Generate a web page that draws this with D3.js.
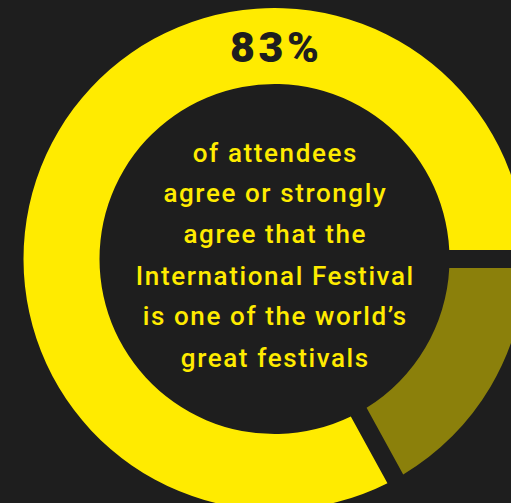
<!DOCTYPE html>
<html><head><meta charset="utf-8">
<script src="https://cdn.jsdelivr.net/npm/d3@7"></script>
<style>html,body{margin:0;padding:0;background:#1e1e1e;overflow:hidden}</style>
</head><body><svg id="c" width="511" height="503"></svg>
<script>
const categories = ["Other", "Agree or strongly agree"];
const values = [17, 83];
const colors = ["#8b800b", "#ffeb00"];
const headline = "83%";
const bodyLines = ["of attendees", "agree or strongly", "agree that the", "International Festival", "is one of the world’s", "great festivals"];

const W = 511, H = 503;
const cx = 274.5, cy = 259, outerR = 251, innerR = 175;
const svg = d3.select("#c");
svg.append("rect").attr("width", W).attr("height", H).attr("fill", "#1e1e1e");
const g = svg.append("g").attr("transform", `translate(${cx},${cy})`);

const pie = d3.pie().sort(null).value(d => d).startAngle(Math.PI / 2).endAngle(Math.PI / 2 + 2 * Math.PI);
const arc = d3.arc().innerRadius(innerR).outerRadius(outerR).padAngle(18 / 200).padRadius(200);
g.selectAll("path").data(pie(values)).join("path")
  .attr("d", arc).attr("fill", (d, i) => colors[i]);

const hls = 3.5;
g.append("text").text(headline)
  .attr("x", hls / 2).attr("y", 62 - cy)
  .attr("text-anchor", "middle")
  .attr("font-family", "Roboto, sans-serif").attr("font-weight", 900)
  .attr("font-size", 43).attr("letter-spacing", hls)
  .attr("fill", "#1e1e1e");

const bls = 1.6;
const lineY = [161.7, 201.7, 243.3, 285, 325, 366.7];
g.selectAll("text.body").data(bodyLines).join("text").attr("class", "body")
  .text(d => d)
  .attr("x", bls / 2).attr("y", (d, i) => lineY[i] - cy)
  .attr("text-anchor", "middle")
  .attr("font-family", "Roboto, sans-serif").attr("font-weight", 500)
  .attr("font-size", 26).attr("letter-spacing", bls)
  .attr("fill", "#ffeb00");
</script></body></html>
